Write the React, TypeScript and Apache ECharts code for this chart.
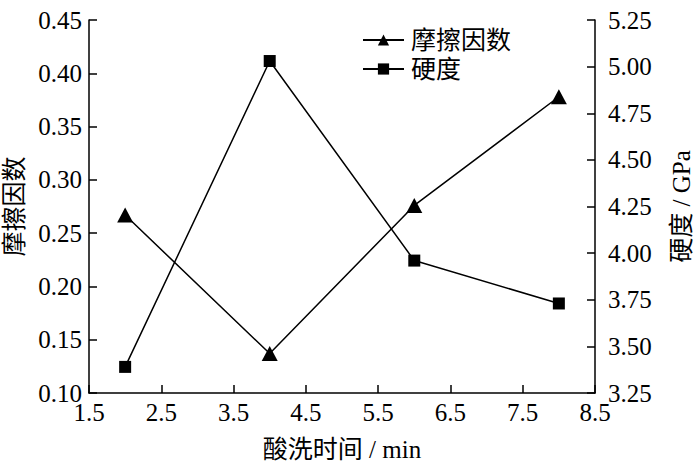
import React, { useEffect, useRef } from "react";
import * as echarts from "echarts";

const times = [2, 4, 6, 8];
const friction = [0.267, 0.137, 0.276, 0.378];
const hardness = [3.39, 5.03, 3.96, 3.73];

const FONT = "'Liberation Serif', 'Times New Roman', 'Noto Sans CJK SC', serif";

export default function App() {
  const ref = useRef<HTMLDivElement>(null);
  useEffect(() => {
    const chart = echarts.init(ref.current!, null, { renderer: "svg" });
    const axisCommon = {
      axisLine: { show: true, lineStyle: { color: "#000", width: 1.5 } },
      axisTick: { show: true, inside: true, length: 8, lineStyle: { color: "#000", width: 1.5 } },
      splitLine: { show: false },
      nameTextStyle: { fontFamily: FONT, fontSize: 25, color: "#000" },
    };
    chart.setOption({
      animation: false,
      backgroundColor: "#fff",
      grid: { left: 89, right: 105, top: 20, bottom: 74, outerBoundsMode: "none", containLabel: false },
      legend: {
        orient: "vertical",
        left: 357,
        top: 22,
        itemWidth: 41,
        itemHeight: 14,
        itemGap: 3,
        textStyle: { fontFamily: FONT, fontSize: 25, color: "#000", lineHeight: 26, padding: [0, 0, 0, 2] },
        data: ["摩擦因数", "硬度"],
      },
      xAxis: {
        type: "value",
        min: 1.5,
        max: 8.5,
        interval: 1,
        name: "酸洗时间 / min",
        nameLocation: "middle",
        nameGap: 44,
        ...axisCommon,
        axisLabel: {
          fontFamily: FONT,
          fontSize: 25,
          color: "#000",
          margin: 7,
          formatter: (v: number) => v.toFixed(1),
        },
      },
      yAxis: [
        {
          type: "value",
          position: "left",
          min: 0.1,
          max: 0.45,
          interval: 0.05,
          name: "摩擦因数",
          nameLocation: "middle",
          nameGap: 62,
          ...axisCommon,
          axisLabel: {
            fontFamily: FONT,
            fontSize: 25,
            color: "#000",
            margin: 7,
            formatter: (v: number) => v.toFixed(2),
          },
        },
        {
          type: "value",
          position: "right",
          min: 3.25,
          max: 5.25,
          interval: 0.25,
          name: "硬度 / GPa",
          nameLocation: "middle",
          nameRotate: 90,
          nameGap: 74,
          ...axisCommon,
          axisLabel: {
            fontFamily: FONT,
            fontSize: 25,
            color: "#000",
            margin: 13,
            formatter: (v: number) => v.toFixed(2),
          },
        },
      ],
      series: [
        {
          name: "摩擦因数",
          type: "line",
          yAxisIndex: 0,
          data: times.map((t, i) => [t, friction[i]]),
          symbol: "triangle",
          symbolSize: [16, 15],
          lineStyle: { color: "#000", width: 1.5 },
          itemStyle: { color: "#000" },
        },
        {
          name: "硬度",
          type: "line",
          yAxisIndex: 1,
          data: times.map((t, i) => [t, hardness[i]]),
          symbol: "rect",
          symbolSize: 12,
          lineStyle: { color: "#000", width: 1.5 },
          itemStyle: { color: "#000" },
        },
      ],
    });
    return () => chart.dispose();
  }, []);
  return (
    <div
      ref={ref}
      style={{ position: "fixed", left: 0, top: 0, width: 700, height: 467 }}
    />
  );
}
